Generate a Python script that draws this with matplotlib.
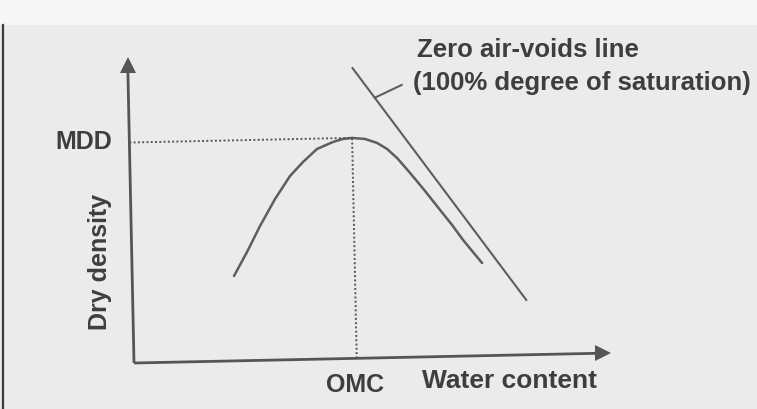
import matplotlib
matplotlib.use("Agg")
import matplotlib.pyplot as plt
from matplotlib.transforms import Affine2D
from matplotlib.patches import Rectangle
from matplotlib.lines import Line2D

# ---- data (local axis units: water content 0-100, dry density 0-100) ----
curve_w = [21.71, 24.59, 27.48, 30.80, 34.10, 36.93, 39.97, 43.42, 45.56, 47.49,
           50.25, 52.80, 54.90, 56.99, 59.70, 62.81, 65.93, 68.42, 70.70, 72.57, 74.65]
curve_d = [28.49, 36.45, 45.09, 54.04, 61.65, 66.26, 70.53, 72.76, 73.70, 73.97,
           73.54, 72.12, 70.03, 66.94, 61.82, 55.67, 49.19, 44.07, 38.96, 35.21, 31.11]
omc = 47.5
mdd = 74.0
zav_w = [47.9, 83.9]
zav_d = [97.4, 18.4]
leader_w = [52.5, 58.3]
leader_d = [87.3, 91.4]
axis_len_x = 100
axis_len_y = 100

W, H = 757, 409
fig = plt.figure(figsize=(W / 100, H / 100), dpi=100)
fig.patch.set_facecolor("#ebebeb")

def fx(px):
    return px / W

def fy(py):
    return 1 - py / H

# scan artefacts: white top strip and dark left border
fig.add_artist(Rectangle((0, fy(25)), 1, 25 / H, transform=fig.transFigure,
                         facecolor="#f7f7f7", edgecolor="none", zorder=0))
fig.add_artist(Line2D([fx(3), fx(3)], [0, fy(25)], transform=fig.transFigure,
                      color="#3c3c3c", lw=1.6))

cx, cy = 134, 363
ax = fig.add_axes([fx(cx), fy(cy), 469 / W, 298 / H])
ax.set_xlim(0, 100)
ax.set_ylim(0, 100)
ax.axis("off")
ax.patch.set_alpha(0)

rot = ax.transData + Affine2D().rotate_deg_around(cx, H - cy, 1.2)

line_col = "#5e5e5e"
axis_col = "#555555"

# axes
ax.plot([0, axis_len_x], [0, 0], color=axis_col, lw=2.0, transform=rot, clip_on=False,
        solid_capstyle="butt")
ax.plot([0, 0], [0, axis_len_y], color=axis_col, lw=2.0, transform=rot, clip_on=False,
        solid_capstyle="butt")
ax.plot([axis_len_x], [0], marker=">", ms=11, color=axis_col, transform=rot, clip_on=False,
        markeredgewidth=0)
ax.plot([0], [axis_len_y], marker="^", ms=11, color=axis_col, transform=rot, clip_on=False,
        markeredgewidth=0)

# compaction curve
ax.plot(curve_w, curve_d, color=line_col, lw=1.8, transform=rot, clip_on=False,
        solid_joinstyle="round", solid_capstyle="round")
# dotted guides
ax.plot([0, omc], [mdd, mdd], color="#555555", lw=1.4, ls=(0, (1, 1.2)), transform=rot,
        clip_on=False)
ax.plot([omc, omc], [0, mdd], color="#555555", lw=1.4, ls=(0, (1, 1.2)), transform=rot,
        clip_on=False)
# zero air-voids line
ax.plot(zav_w, zav_d, color=line_col, lw=1.5, transform=rot, clip_on=False)
ax.plot(leader_w, leader_d, color=line_col, lw=1.5, transform=rot, clip_on=False)

txt = "#3e3e3e"
bold_font = ["Liberation Sans", "DejaVu Sans"]

fig.text(fx(84), fy(142), "MDD", ha="center", va="center", fontsize=18,
         fontweight="bold", color=txt, family=bold_font)
fig.text(fx(100), fy(262), "Dry density", ha="center", va="center", fontsize=18,
         fontweight="bold", color=txt, family=bold_font, rotation=90)
fig.text(fx(355), fy(385), "OMC", ha="center", va="center", fontsize=18,
         fontweight="bold", color=txt, family=bold_font)
fig.text(fx(510), fy(381), "Water content", ha="center", va="center", fontsize=19,
         fontweight="bold", color=txt, family=bold_font)
fig.text(fx(417), fy(50), "Zero air-voids line", ha="left", va="center", fontsize=18.5,
         fontweight="bold", color=txt, family=bold_font)
fig.text(fx(413), fy(83), "(100% degree of saturation)", ha="left", va="center",
         fontsize=18.5, fontweight="bold", color=txt, family=bold_font)

fig.savefig("out.png", dpi=100, facecolor=fig.get_facecolor())
